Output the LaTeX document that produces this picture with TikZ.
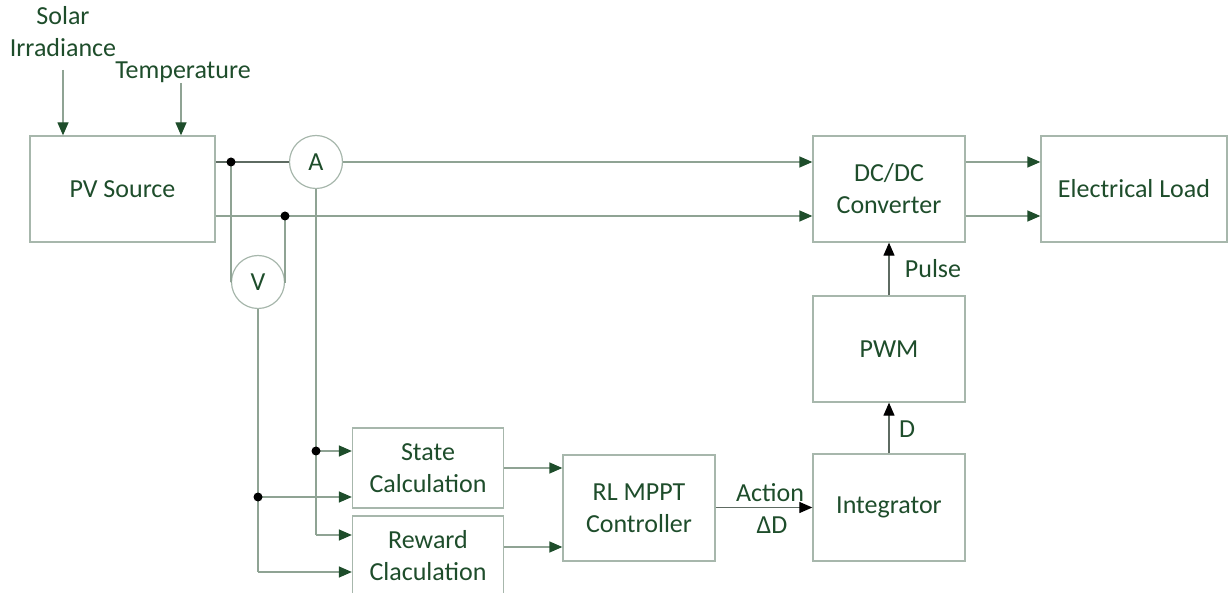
\documentclass[tikz,border=0pt]{standalone}
\usepackage{fontspec}
\setmainfont{Carlito}
\usetikzlibrary{arrows.meta,calc}
\definecolor{txt}{HTML}{1E4D2B}
\definecolor{edge}{HTML}{A7B7AC}
\definecolor{wire}{HTML}{8FA394}
\definecolor{wiredark}{HTML}{5E6B62}
\definecolor{tipgreen}{HTML}{1E4D2B}
\begin{document}
\begin{tikzpicture}[x=1pt,y=-1pt,
  font=\fontsize{26}{32}\selectfont,
  box/.style={draw=edge, line width=1.3pt, text=txt, align=center, inner sep=0pt},
  meter/.style={circle, draw=edge, line width=1.2pt, text=txt, minimum size=53pt, inner sep=0pt},
  wire/.style={draw=wire, line width=1.3pt},
  feed/.style={wire, -{Triangle[length=13pt,width=11pt,color=tipgreen]}},
  ctrl/.style={draw=wiredark, line width=1.2pt, -{Triangle[length=13pt,width=11pt,color=black]}},
  dot/.style={circle, fill=black, minimum size=9pt, inner sep=0pt, outer sep=0pt, font=\tiny},
  lbl/.style={text=txt, inner sep=0pt, align=center}
]
\useasboundingbox (0,0) rectangle (1232,593);
\clip (0,0) rectangle (1232,593);

% blocks
\node[box, minimum width=185pt, minimum height=106pt] (pv)   at (122.5,189) {PV Source};
\node[box, minimum width=152pt, minimum height=106pt] (dc)   at (889,189)   {DC/DC\\Converter};
\node[box, minimum width=186pt, minimum height=106pt] (load) at (1134,189)  {Electrical Load};
\node[box, minimum width=152pt, minimum height=106pt] (pwm)  at (889,349)   {PWM};
\node[box, minimum width=152pt, minimum height=107pt] (int)  at (889,507.5) {Integrator};
\node[box, minimum width=152pt, minimum height=106pt] (rl)   at (639,508)   {RL MPPT\\Controller};
\node[box, minimum width=151pt, minimum height=80pt]  (st)   at (428,468)   {State\\Calculation};
\node[box, minimum width=151pt, minimum height=80pt]  (rw)   at (428,556)   {Reward\\Claculation};

% meters
\node[meter] (am) at (316,162) {A};
\node[meter] (vm) at (258,282) {V};

% environment inputs
\node[lbl] (solar) at (63,32) {Solar\\Irradiance};
\node[lbl] (temp)  at (183,72) {Temperature};
\coordinate (irr) at (63,70);
\coordinate (tin) at (181,83);
\draw[feed] (irr) -- (irr |- pv.north);
\draw[feed] (tin) -- (tin |- pv.north);

% junction points
\coordinate (j1) at (231,162);
\coordinate (j2) at (285,216);
\coordinate (j3) at (316,451);
\coordinate (j4) at (258,497);
\coordinate (ra) at (316,535);
\coordinate (rv) at (258,572);

% power path
\draw[draw=wiredark, line width=1.2pt] (pv.east |- am) -- (am.west);
\draw[feed] (am.east) -- (dc.west |- am);
\draw[feed] (pv.east |- j2) -- (dc.west |- j2);
\draw[feed] (dc.east |- am) -- (load.west |- am);
\draw[feed] (dc.east |- j2) -- (load.west |- j2);

% voltage sensing
\draw[wire] (j1) -- (j1 |- vm) -- (vm.west);
\draw[wire] (j2) -- (j2 |- vm) -- (vm.east);

% measurement to calculation blocks
\draw[wire] (am.south) -- (ra);
\draw[feed] (ra) -- (rw.west |- ra);
\draw[feed] (j3) -- (st.west |- j3);
\draw[wire] (vm.south) -- (rv);
\draw[feed] (rv) -- (rw.west |- rv);
\draw[feed] (j4) -- (st.west |- j4);

% junction dots
\foreach \j in {j1,j2,j3,j4} \node[dot] at (\j) {};

% controller chain
\draw[feed] (st.east |- 0,468) -- (rl.west |- 0,468);
\draw[feed] (rw.east |- 0,547) -- (rl.west |- 0,547);
\draw[ctrl] (rl.east |- int) -- (int.west);
\node[lbl] (act) at (770,493) {Action};
\node[lbl] (dd)  at (772,525) {ΔD};
\draw[ctrl] (int.north) -- (pwm.south);
\node[lbl] (dl) at (907,429) {D};
\draw[ctrl] (pwm.north) -- (dc.south);
\node[lbl] (pl) at (933,269) {Pulse};
\end{tikzpicture}
\end{document}
